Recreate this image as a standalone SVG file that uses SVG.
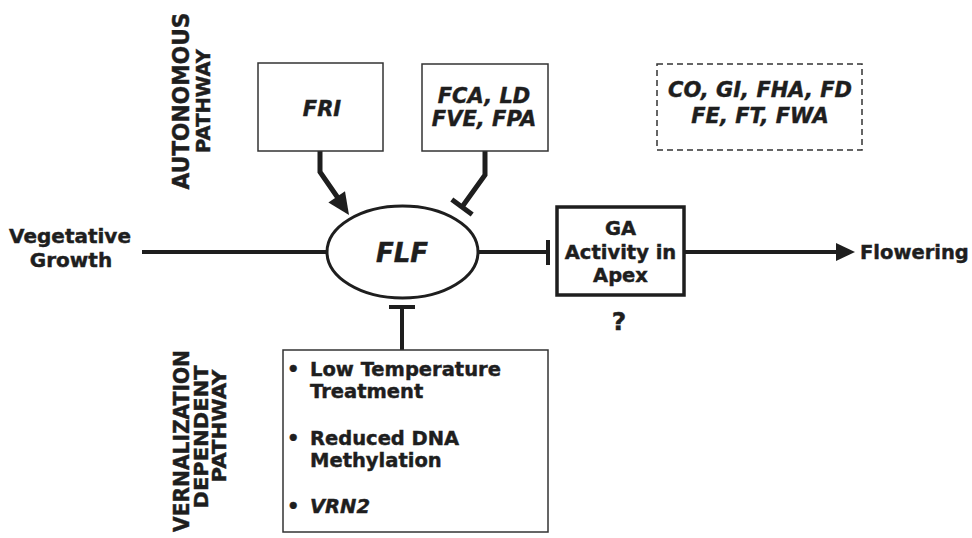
<svg xmlns="http://www.w3.org/2000/svg" width="972" height="538" viewBox="0 0 972 538">
  <style>
    .t { font-family: "DejaVu Sans", "Liberation Sans", sans-serif; font-weight: bold; fill: #1e1e1e; stroke: #1e1e1e; stroke-width: 0.45; }
    .i { font-style: italic; }
    .c { text-anchor: middle; }
    .box { fill: #fff; stroke: #333; stroke-width: 1.5; }
    .wire { fill: none; stroke: #1e1e1e; stroke-linejoin: miter; }
  </style>
  <rect width="972" height="538" fill="#fff"/>

  <!-- pathway labels -->
  <g id="label-autonomous" class="t c">
    <text transform="translate(189,101) rotate(-90)" font-size="23" textLength="177" lengthAdjust="spacingAndGlyphs">AUTONOMOUS</text>
    <text transform="translate(210,101) rotate(-90)" font-size="20" textLength="104" lengthAdjust="spacingAndGlyphs">PATHWAY</text>
  </g>
  <g id="label-vernalization" class="t c">
    <text transform="translate(189,441) rotate(-90)" font-size="21.5" textLength="182" lengthAdjust="spacingAndGlyphs">VERNALIZATION</text>
    <text transform="translate(208,437) rotate(-90)" font-size="20" textLength="143" lengthAdjust="spacingAndGlyphs">DEPENDENT</text>
    <text transform="translate(226,426) rotate(-90)" font-size="20" textLength="113" lengthAdjust="spacingAndGlyphs">PATHWAY</text>
  </g>

  <!-- connectors -->
  <g id="connectors" class="wire">
    <!-- main axis -->
    <line x1="142" y1="252" x2="327" y2="252" stroke-width="4"/>
    <line x1="478" y1="252" x2="548" y2="252" stroke-width="4"/>
    <line x1="548" y1="240" x2="548" y2="265" stroke-width="4"/>
    <line x1="684" y1="252" x2="838" y2="252" stroke-width="4"/>
    <polygon points="836,243 855,252 836,261" fill="#1e1e1e" stroke="none"/>
    <!-- FRI promotes FLF -->
    <polyline points="320,151 320,172 338,198" stroke-width="5"/>
    <polygon points="349,215 345,191.2 328.4,202.4" fill="#1e1e1e" stroke="none"/>
    <!-- FCA group represses FLF -->
    <polyline points="485,151 485,175 462,207" stroke-width="5"/>
    <line x1="451.8" y1="199.5" x2="472.2" y2="214.5" stroke-width="5"/>
    <!-- vernalization represses FLF -->
    <line x1="402" y1="350" x2="402" y2="307" stroke-width="4"/>
    <line x1="389" y1="307" x2="415" y2="307" stroke-width="4"/>
  </g>

  <g id="vegetative-growth" class="t c" font-size="20">
    <text x="70" y="243">Vegetative</text>
    <text x="71" y="267">Growth</text>
  </g>

  <g id="fri">
    <rect class="box" x="258" y="63" width="125" height="88"/>
    <text class="t i c" x="322" y="116" font-size="21">FRI</text>
  </g>

  <g id="fca-group">
    <rect class="box" x="422" y="64" width="126" height="87"/>
    <text class="t i c" x="484" y="103" font-size="21">FCA, LD</text>
    <text class="t i c" x="484" y="126" font-size="21">FVE, FPA</text>
  </g>

  <g id="photoperiod-group">
    <rect x="657" y="64" width="205" height="86" fill="none" stroke="#333" stroke-width="1.5" stroke-dasharray="6,4"/>
    <text class="t i c" x="760" y="97" font-size="21">CO, GI, FHA, FD</text>
    <text class="t i c" x="760" y="123" font-size="21">FE, FT, FWA</text>
  </g>

  <g id="flf">
    <ellipse cx="402.5" cy="252" rx="75.5" ry="46" fill="#fff" stroke="#1e1e1e" stroke-width="3"/>
    <text class="t i c" x="402" y="262" font-size="26">FLF</text>
  </g>

  <g id="ga-activity">
    <rect x="557" y="207" width="127" height="88" fill="#fff" stroke="#1e1e1e" stroke-width="3.5"/>
    <text class="t c" x="620.5" y="235" font-size="19.5">GA</text>
    <text class="t c" x="620.5" y="259" font-size="19.5">Activity in</text>
    <text class="t c" x="620.5" y="282" font-size="19.5">Apex</text>
    <text class="t c" x="619" y="330" font-size="25">?</text>
  </g>

  <g id="flowering">
    <text class="t" x="860" y="259" font-size="19.5">Flowering</text>
  </g>

  <g id="vernalization-factors" class="t" font-size="19.5">
    <rect class="box" x="283" y="350" width="265" height="182"/>
    <text x="287" y="376">•</text>
    <text x="310" y="376">Low Temperature</text>
    <text x="310" y="398">Treatment</text>
    <text x="287" y="445">•</text>
    <text x="310" y="445">Reduced DNA</text>
    <text x="310" y="467">Methylation</text>
    <text x="287" y="513">•</text>
    <text class="i" x="310" y="513">VRN2</text>
  </g>
</svg>
